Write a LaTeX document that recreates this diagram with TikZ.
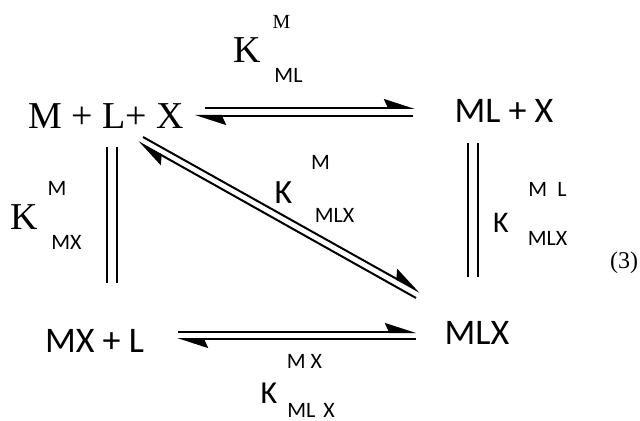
\documentclass[tikz,border=0pt]{standalone}
\usepackage{fontspec}
\setmainfont{Liberation Serif}
\newfontfamily\calfont{Carlito}
\usetikzlibrary{arrows.meta}

\begin{document}
\begin{tikzpicture}[x=0.5pt, y=-0.5pt,
    species/.style={inner sep=0pt, anchor=base, font=\calfont\fontsize{18}{20}\selectfont},
    serifk/.style={inner sep=0pt, anchor=base, font=\fontsize{19}{20}\selectfont},
    sansk/.style={inner sep=0pt, anchor=base, font=\calfont\fontsize{16}{18}\selectfont},
    idx/.style={inner sep=0pt, anchor=base, font=\calfont\fontsize{11}{12}\selectfont},
    harp/.style={line width=1pt, -{Stealth[harpoon, length=14pt, width=9pt, inset=2pt]}},
    bars/.style={line width=1pt, double, double distance=4pt}]

    \useasboundingbox (0,0) rectangle (640,421);

    % --- Species ---
    \node[species, font=\fontsize{19}{20}\selectfont] (mlx) at (106,129) {M + L+ X};
    \node[species] (mlpx) at (504,123) {ML + X};
    \node[species] (mxpl) at (94.5,352) {MX + L};
    \node[species] (mlxc) at (477,344) {MLX};

    % --- Top equilibrium ---
    \draw[harp] ([shift={(99,-21)}]mlx.base) -- ([shift={(-89,-15)}]mlpx.base);
    \draw[harp] ([shift={(-91,-7)}]mlpx.base) -- ([shift={(89,-13)}]mlx.base);

    % --- Bottom equilibrium ---
    \draw[harp] ([shift={(83.5,-20)}]mxpl.base) -- ([shift={(-61,-12)}]mlxc.base);
    \draw[harp] ([shift={(-61,-5)}]mlxc.base) -- ([shift={(82.5,-13)}]mxpl.base);

    % --- Diagonal equilibrium ---
    \draw[harp] ([shift={(37,8)}]mlx.base) -- ([shift={(-57,-52)}]mlxc.base);
    \draw[harp] ([shift={(-61,-46)}]mlxc.base) -- ([shift={(32,13)}]mlx.base);

    % --- Vertical equilibria (double bars) ---
    \draw[bars] ([shift={(6,18)}]mlx.base) -- ([shift={(17.5,-69)}]mxpl.base);
    \draw[bars] ([shift={(-31,20)}]mlpx.base) -- ([shift={(-4,-67)}]mlxc.base);

    % --- Constants ---
    \node[serifk] (kml) at (247.5,63) {K};
    \node[idx, font=\fontsize{10}{12}\selectfont] (kmlsup) at (281.5,29) {M};
    \node[idx] (kmlsub) at (288.5,83) {ML};

    \node[serifk] (kmx) at (24,230) {K};
    \node[idx] (kmxsup) at (57,196) {M};
    \node[idx] (kmxsub) at (66.5,250) {MX};

    \node[sansk, font=\calfont\fontsize{17}{18}\selectfont] (kmlx) at (283.5,204) {K};
    \node[idx] (kmlxsup) at (320.5,170) {M};
    \node[idx] (kmlxsub) at (334.5,223) {MLX};

    \node[sansk, font=\calfont\fontsize{15}{18}\selectfont] (kml2) at (501,233) {K};
    \node[idx] (kml2sup) at (547.5,197) {M\hspace{5pt}L};
    \node[idx] (kml2sub) at (547.5,246) {MLX};

    \node[idx] (kmx2sup) at (304.5,368) {M X};
    \node[sansk] (kmx2) at (269,403) {K};
    \node[idx] (kmx2sub) at (311,417) {ML\hspace{4pt}X};

    % --- Equation number ---
    \node[inner sep=0pt, anchor=base, font=\fontsize{12}{14}\selectfont] (eqno) at (624,269) {(3)};

\end{tikzpicture}
\end{document}
